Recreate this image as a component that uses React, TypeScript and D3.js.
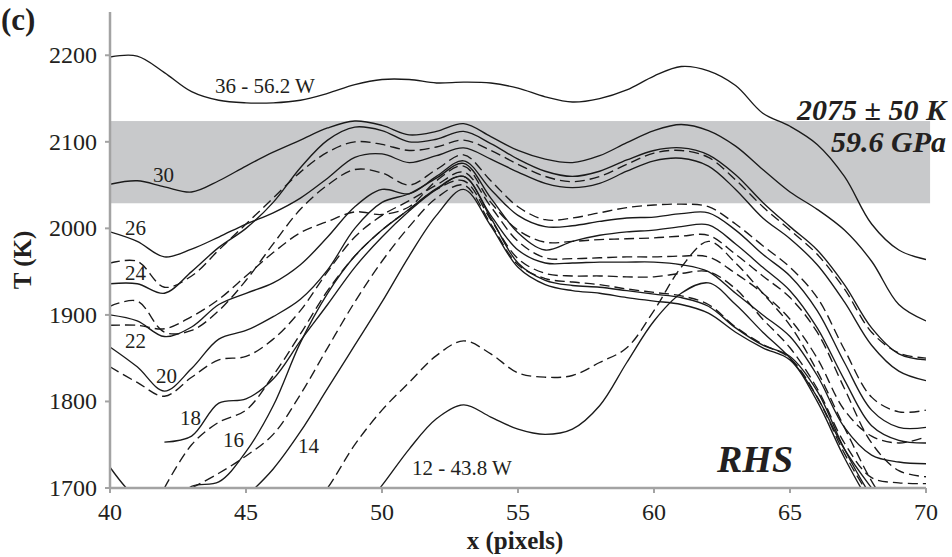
import React from 'react';
import * as d3 from 'd3';

// x positions (pixels along the profile)
const X = [40,41,42,43,44,45,46,47,48,49,50,51,52,53,54,55,56,57,58,59,60,61,62,63,64,65,66,67,68,69,70];

// temperature profiles (K), one per laser-power step; null = no data
const P36 = [2198,2199,2180,2158,2148,2145,2145,2148,2156,2166,2172,2172,2168,2169,2168,2162,2152,2146,2150,2160,2176,2187,2182,2165,2133,2118,2097,2060,2005,1975,1964];
const P30 = [2051,2055,2048,2042,2055,2072,2088,2102,2116,2124,2119,2108,2112,2121,2106,2090,2080,2076,2084,2099,2113,2120,2113,2095,2068,2042,2022,1998,1962,1912,1893];
const P26 = [1996,1985,1967,1976,1990,2005,2018,2035,2058,2082,2086,2076,2084,2093,2080,2065,2052,2047,2052,2066,2078,2081,2072,2045,2012,1988,1958,1915,1865,1835,1824];
const P25 = [1960,1962,1932,1945,1975,2005,2035,2065,2088,2100,2097,2090,2094,2102,2090,2074,2060,2054,2060,2074,2087,2090,2082,2056,2025,1998,1970,1930,1880,1856,1850];
const P24 = [1936,1936,1925,1950,1978,2000,2030,2070,2102,2117,2113,2100,2103,2112,2098,2080,2066,2060,2066,2079,2090,2093,2085,2062,2030,2002,1975,1935,1885,1855,1848];
const P23 = [1910,1916,1880,1882,1905,1940,1982,2022,2050,2068,2064,2050,2068,2085,2055,2025,2010,2012,2018,2024,2027,2028,2025,2005,1980,1955,1920,1860,1805,1788,1790];
const P22 = [1900,1893,1875,1886,1912,1925,1937,1958,1990,2025,2045,2040,2060,2078,2045,2015,2002,2003,2008,2012,2013,2017,2018,1998,1970,1945,1905,1845,1790,1770,1770];
const P21 = [1888,1888,1884,1898,1918,1945,1972,1995,2008,2019,2016,2025,2055,2072,2030,1998,1984,1985,1987,1988,1989,1991,1992,1970,1945,1920,1880,1815,1752,1720,1713];
const P20 = [1863,1840,1812,1838,1872,1882,1898,1918,1952,2000,2030,2040,2058,2075,2035,1995,1975,1985,1992,1996,1998,2002,2004,1982,1955,1928,1885,1825,1772,1755,1752];
const P19 = [1840,1822,1806,1828,1848,1852,1872,1905,1950,1990,2015,2032,2050,2065,2025,1985,1966,1965,1966,1967,1967,1968,1967,1948,1925,1895,1850,1790,1760,1752,1759];
const P18 = [null,null,1753,1760,1798,1803,1826,1870,1912,1955,1990,2020,2045,2060,2015,1975,1960,1960,1961,1961,1961,1958,1950,1925,1900,1875,1830,1770,1738,1730,1728];
const P17 = [null,null,1700,1750,1776,1790,1830,1878,1928,1968,1998,2022,2045,2055,2010,1965,1948,1945,1945,1944,1944,1948,1950,1930,1895,1862,1815,1752,1712,1706,1705];
const P16 = [1724,1688,1675,1702,1707,1742,1795,1868,1925,1968,1998,2022,2046,2060,2012,1960,1940,1934,1932,1928,1924,1920,1910,1885,1865,1852,1812,1745,1690,1650,null];
const P15 = [null,null,null,1700,1717,1737,1762,1808,1862,1915,1962,2002,2035,2050,2005,1958,1942,1938,1935,1930,1926,1922,1912,1886,1866,1850,1805,1740,1688,1650,null];
const P14 = [null,null,null,null,null,1690,1722,1765,1815,1865,1915,1968,2015,2045,2003,1955,1935,1928,1925,1920,1916,1912,1902,1880,1862,1848,1800,1735,1680,1640,null];
const P13 = [null,null,null,null,null,null,null,1660,1700,1750,1790,1822,1853,1870,1855,1833,1828,1830,1845,1862,1905,1955,1985,1960,1925,1888,1835,1770,1708,1660,null];
const P12 = [null,null,null,null,null,null,null,null,1620,1665,1703,1745,1780,1796,1782,1768,1762,1768,1795,1845,1893,1925,1937,1912,1880,1850,1805,1745,1700,1660,null];

const POWERS = [36,30,26,25,24,23,22,21,20,19,18,17,16,15,14,13,12];
const PROFILES = [P36,P30,P26,P25,P24,P23,P22,P21,P20,P19,P18,P17,P16,P15,P14,P13,P12];

const X_TICKS = [40,45,50,55,60,65,70];
const Y_TICKS = [1700,1800,1900,2000,2100,2200];
const BAND = [2029, 2124]; // 2075 ± 50 K

// curve labels: text and the (x, T) point where they sit
const LABEL_TEXT = ['36 - 56.2 W','30','26','24','22','20','18','16','14','12 - 43.8 W'];
const LABEL_X = [43.86,41.58,40.55,40.55,40.55,41.69,42.57,44.15,46.91,51.1];
const LABEL_T = [2156,2053,1992,1940,1862,1821,1773,1747,1740,1715];

const W = 952, H = 557;
const ML = 110, MR = 926, MT = 12, MB = 488;

export default function App() {
  const x = d3.scaleLinear().domain([40, 70]).range([ML, MR]);
  const y = d3.scaleLinear().domain([1700, 2250]).range([MB, MT]);
  const line = d3.line<[number, number | null]>()
    .defined(d => d[1] !== null)
    .x(d => x(d[0]))
    .y(d => y(d[1] as number))
    .curve(d3.curveCatmullRom.alpha(0.5));
  const serif = '"Liberation Serif", "Times New Roman", serif';
  const axisColor = '#a3a3a3';
  return (
    <svg width={W} height={H} style={{ position: 'absolute', left: 0, top: 0, background: '#fff' }}
      fontFamily={serif}>
      <defs>
        <clipPath id="plot">
          <rect x={ML} y={MT} width={MR - ML} height={MB - MT} />
        </clipPath>
      </defs>
      <rect x={ML} y={y(BAND[1])} width={x(70.15) - ML} height={y(BAND[0]) - y(BAND[1])} fill="#c8c9cb" />
      <g clipPath="url(#plot)">
        {PROFILES.map((p, i) => (
          <path key={i}
            d={line(X.map((xv, j) => [xv, p[j]] as [number, number | null])) || ''}
            fill="none" stroke="#1a1a1a" strokeWidth={1.35}
            strokeDasharray={POWERS[i] % 2 === 1 ? '10,5' : undefined} />
        ))}
      </g>
      {/* axes */}
      <line x1={ML} x2={ML} y1={MT} y2={MB} stroke={axisColor} strokeWidth={2.5} />
      <line x1={ML} x2={MR} y1={MB} y2={MB} stroke={axisColor} strokeWidth={2.5} />
      {Y_TICKS.map(t => (
        <g key={t}>
          <line x1={ML - 5} x2={ML} y1={y(t)} y2={y(t)} stroke={axisColor} strokeWidth={2} />
          <text x={97} y={y(t) + 8} fontSize={24} textAnchor="end" fill="#231f20">{t}</text>
        </g>
      ))}
      {X_TICKS.map(t => (
        <g key={t}>
          <line x1={x(t)} x2={x(t)} y1={MB} y2={MB + 5} stroke={axisColor} strokeWidth={2} />
          <text x={x(t)} y={520} fontSize={24} textAnchor="middle" fill="#231f20">{t}</text>
        </g>
      ))}
      {LABEL_TEXT.map((s, i) => (
        <text key={s} x={x(LABEL_X[i])} y={y(LABEL_T[i])} fontSize={21} fill="#231f20">{s}</text>
      ))}
      <text x={1} y={30} fontSize={31} fontWeight="bold" fill="#231f20">(c)</text>
      <text transform="translate(31,260) rotate(-90)" fontSize={25} fontWeight="bold" textAnchor="middle" fill="#231f20">T (K)</text>
      <text x={515} y={549} fontSize={25} fontWeight="bold" textAnchor="middle" fill="#231f20">x (pixels)</text>
      <text x={946} y={120} fontSize={30} fontWeight="bold" fontStyle="italic" textAnchor="end" fill="#231f20">2075 ± 50 K</text>
      <text x={946} y={152} fontSize={30} fontWeight="bold" fontStyle="italic" textAnchor="end" fill="#231f20">59.6 GPa</text>
      <text x={717} y={472} fontSize={38} fontWeight="bold" fontStyle="italic" fill="#231f20">RHS</text>
    </svg>
  );
}
